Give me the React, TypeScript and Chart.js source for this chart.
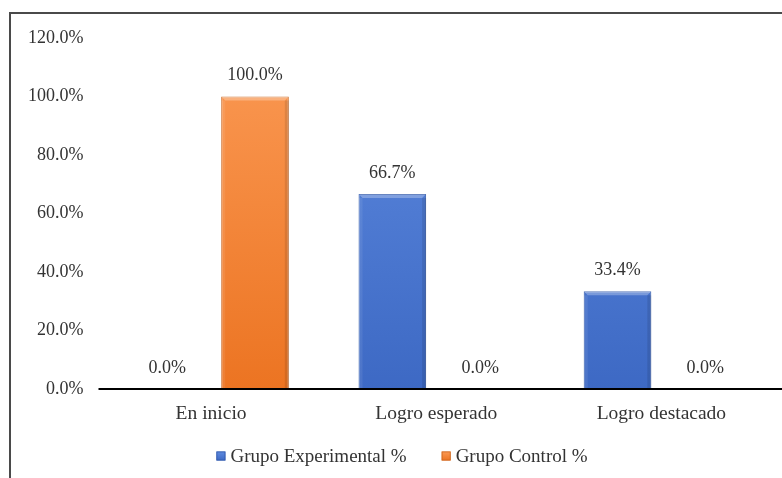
import { useEffect, useRef } from "react";
import { Chart, registerables } from "chart.js";

Chart.register(...registerables);

const categories = ["En inicio", "Logro esperado", "Logro destacado"];
const seriesNames = ["Grupo Experimental %", "Grupo Control %"];
const experimental = [0, 66.7, 33.4];
const control = [100, 0, 0];
const yMax = 120;
const yStep = 20;

const FONT = "'Liberation Serif', 'Times New Roman', serif";
const TEXT = "#333333";

const BLUE = { top: "#5f8be0", bottom: "#3d69c4", border: "#2f57a8", solid: "#4472c4" };
const ORANGE = { top: "#fb9a55", bottom: "#ec7422", border: "#c9651e", solid: "#ed7d31" };
const legendColors = [BLUE, ORANGE];

function gradient(chart: any, c: any) {
  const area = chart.chartArea;
  if (!area) return c.solid;
  const g = chart.ctx.createLinearGradient(0, area.top, 0, area.bottom);
  g.addColorStop(0, c.top);
  g.addColorStop(1, c.bottom);
  return g;
}

const framePlugin = {
  id: "frame",
  beforeDraw(chart: any) {
    const ctx = chart.ctx;
    ctx.save();
    ctx.fillStyle = "#ffffff";
    ctx.fillRect(0, 0, chart.width, chart.height);
    ctx.strokeStyle = "#4a4a4a";
    ctx.lineWidth = 2;
    ctx.beginPath();
    ctx.moveTo(10, chart.height + 2);
    ctx.lineTo(10, 13);
    ctx.lineTo(chart.width + 2, 13);
    ctx.stroke();
    ctx.restore();
  },
  afterDatasetsDraw(chart: any) {
    const ctx = chart.ctx;
    const area = chart.chartArea;
    ctx.save();
    // bevel highlights
    chart.data.datasets.forEach((ds: any, di: number) => {
      const meta = chart.getDatasetMeta(di);
      meta.data.forEach((bar: any) => {
        const { x, y, base, width } = bar.getProps(["x", "y", "base", "width"], true);
        const h = base - y;
        if (h < 2) return;
        const l = x - width / 2;
        const r = x + width / 2;
        const b = 4;
        ctx.fillStyle = "rgba(255,255,255,0.28)";
        ctx.beginPath();
        ctx.moveTo(l, y);
        ctx.lineTo(r, y);
        ctx.lineTo(r - b, y + b);
        ctx.lineTo(l + b, y + b);
        ctx.closePath();
        ctx.fill();
        ctx.fillStyle = "rgba(0,0,0,0.10)";
        ctx.fillRect(r - b, y + b, b, h - b);
        ctx.fillStyle = "rgba(255,255,255,0.08)";
        ctx.fillRect(l, y + b, b, h - b);
      });
    });
    // baseline axis
    ctx.strokeStyle = "#000000";
    ctx.lineWidth = 2;
    ctx.beginPath();
    ctx.moveTo(area.left, area.bottom);
    ctx.lineTo(chart.width, area.bottom);
    ctx.stroke();
    // data labels
    ctx.fillStyle = TEXT;
    ctx.font = `18px ${FONT}`;
    ctx.textAlign = "center";
    ctx.textBaseline = "middle";
    chart.data.datasets.forEach((ds: any, di: number) => {
      const meta = chart.getDatasetMeta(di);
      meta.data.forEach((bar: any, i: number) => {
        const v = ds.data[i] as number;
        ctx.fillText(v.toFixed(1) + "%", bar.x, bar.y - 21);
      });
    });
    ctx.restore();
  },
  afterDraw(chart: any) {
    // legend
    const ctx = chart.ctx;
    ctx.save();
    ctx.font = `19px ${FONT}`;
    ctx.textBaseline = "middle";
    ctx.textAlign = "left";
    const box = 9;
    const gap = 5;
    const itemGap = 35;
    const widths = seriesNames.map((s) => ctx.measureText(s).width);
    const total = widths.reduce((a, w) => a + box + gap + w, 0) + itemGap * (seriesNames.length - 1);
    const cy = 456;
    let x = 402 - total / 2;
    seriesNames.forEach((name, i) => {
      const c = legendColors[i];
      const g = ctx.createLinearGradient(0, cy - box / 2, 0, cy + box / 2);
      g.addColorStop(0, c.top);
      g.addColorStop(1, c.bottom);
      ctx.fillStyle = g;
      ctx.fillRect(x, cy - box / 2, box, box);
      ctx.strokeStyle = c.border;
      ctx.lineWidth = 0.8;
      ctx.strokeRect(x + 0.4, cy - box / 2 + 0.4, box - 0.8, box - 0.8);
      x += box + gap;
      ctx.fillStyle = TEXT;
      ctx.fillText(name, x, cy + 1);
      x += widths[i] + itemGap;
    });
    ctx.restore();
  },
};

export default function App() {
  const ref = useRef<HTMLCanvasElement | null>(null);
  useEffect(() => {
    if (!ref.current) return;
    const chart = new Chart(ref.current, {
      type: "bar",
      data: {
        labels: categories,
        datasets: [
          {
            label: seriesNames[0],
            data: experimental,
            backgroundColor: (ctx: any) => gradient(ctx.chart, BLUE),
            borderColor: BLUE.border,
            borderWidth: 1,
            categoryPercentage: 0.78,
            barPercentage: 0.77,
          },
          {
            label: seriesNames[1],
            data: control,
            backgroundColor: (ctx: any) => gradient(ctx.chart, ORANGE),
            borderColor: ORANGE.border,
            borderWidth: 1,
            categoryPercentage: 0.78,
            barPercentage: 0.77,
          },
        ],
      },
      options: {
        responsive: false,
        animation: false,
        devicePixelRatio: 1,
        layout: { padding: { top: 38, left: 20, right: 8, bottom: 0 } },
        plugins: {
          tooltip: { enabled: false },
          legend: { display: false },
        },
        scales: {
          x: {
            grid: { display: false, drawTicks: false },
            border: { display: false },
            ticks: { color: TEXT, font: { family: FONT, size: 19.5 }, padding: 13 },
            afterFit: (s: any) => { s.height = 89; },
          },
          y: {
            min: 0,
            max: yMax,
            grid: { display: false, drawTicks: false },
            border: { display: false },
            ticks: {
              stepSize: yStep,
              color: TEXT,
              font: { family: FONT, size: 18 },
              padding: 15,
              callback: (v: any) => Number(v).toFixed(1) + "%",
            },
            afterFit: (s: any) => { s.width = 78.5; },
          },
        },
      },
      plugins: [framePlugin],
    });
    return () => chart.destroy();
  }, []);
  return (
    <div style={{ position: "absolute", left: 0, top: 0, width: 782, height: 478 }}>
      <canvas ref={ref} width={782} height={478} style={{ width: 782, height: 478, display: "block" }} />
    </div>
  );
}
